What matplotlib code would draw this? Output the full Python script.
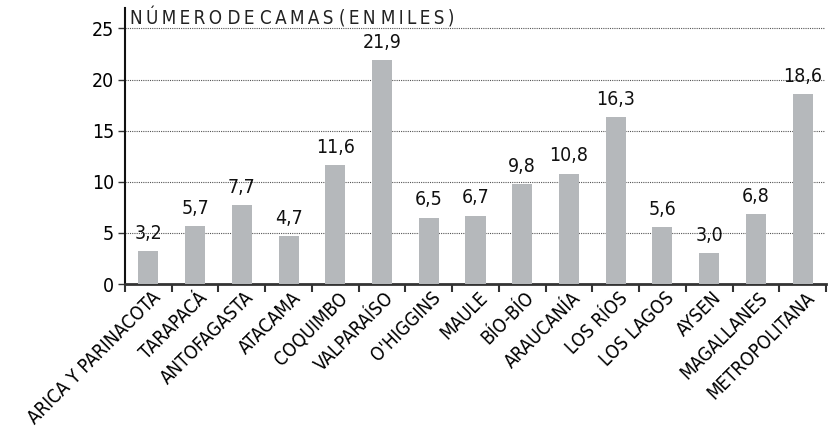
import matplotlib
matplotlib.use("Agg")
import matplotlib.pyplot as plt
import numpy as np

# regiones y camas (miles)
regiones = ["ARICA Y PARINACOTA", "TARAPACÁ", "ANTOFAGASTA", "ATACAMA", "COQUIMBO",
            "VALPARAÍSO", "O'HIGGINS", "MAULE", "BÍO-BÍO", "ARAUCANÍA", "LOS RÍOS",
            "LOS LAGOS", "AYSEN", "MAGALLANES", "METROPOLITANA"]
camas = [3.2, 5.7, 7.7, 4.7, 11.6, 21.9, 6.5, 6.7, 9.8, 10.8, 16.3, 5.6, 3.0, 6.8, 18.6]
yticks = [0, 5, 10, 15, 20, 25]
titulo = "NÚMERO DE CAMAS (EN MILES)"

plt.rcParams['font.family'] = ['DejaVu Sans']
plt.rcParams['font.stretch'] = 'condensed'

fig = plt.figure(figsize=(8.37, 4.33), dpi=100)
ax = fig.add_axes([125/837, 1 - 284/433, (826 - 125)/837, 276/433])

x = np.arange(len(regiones))
ax.bar(x, camas, width=0.43, color='#b5b8bb', zorder=3)

for xi, v in zip(x, camas):
    ax.text(xi, v + 0.8, f"{v:.1f}".replace('.', ','), ha='center', va='bottom',
            fontsize=14, color='#111111', zorder=4)

ax.set_xlim(-0.5, len(regiones) - 0.5)
ax.set_ylim(0, 27)
ax.set_yticks(yticks)
ax.set_yticklabels([str(t) for t in yticks], fontsize=14)
for t in yticks[1:]:
    ax.plot([-0.5, len(regiones) - 0.55], [t, t], ls=(0, (1, 1)), lw=0.8,
            color='#555555', zorder=1)

ax.set_xticks(x + 0.05)
ax.set_xticklabels(regiones, rotation=45, ha='right', rotation_mode='anchor',
                   fontsize=13.5)
ax.tick_params(axis='x', which='major', length=0, pad=3)
ax.set_xticks(np.arange(-0.5, len(regiones)), minor=True)
ax.tick_params(axis='x', which='minor', length=6, width=1.5, color='#333333', direction='out')
ax.tick_params(axis='y', length=5, width=1, color='#333333', pad=3)

ax.spines['top'].set_visible(False)
ax.spines['right'].set_visible(False)
ax.spines['bottom'].set_linewidth(2)
ax.spines['bottom'].set_color('#333333')
ax.spines['left'].set_linewidth(1.5)
ax.spines['left'].set_color('#111111')

# titulo con espaciado entre letras
espaciado = " ".join("\u2009".join(w) for w in titulo.split(" "))
ax.text(130/837, 1 - 18/433, espaciado, transform=fig.transFigure, fontsize=13.5,
        ha='left', va='center', color='#222222')

fig.savefig("out.png", dpi=100)
